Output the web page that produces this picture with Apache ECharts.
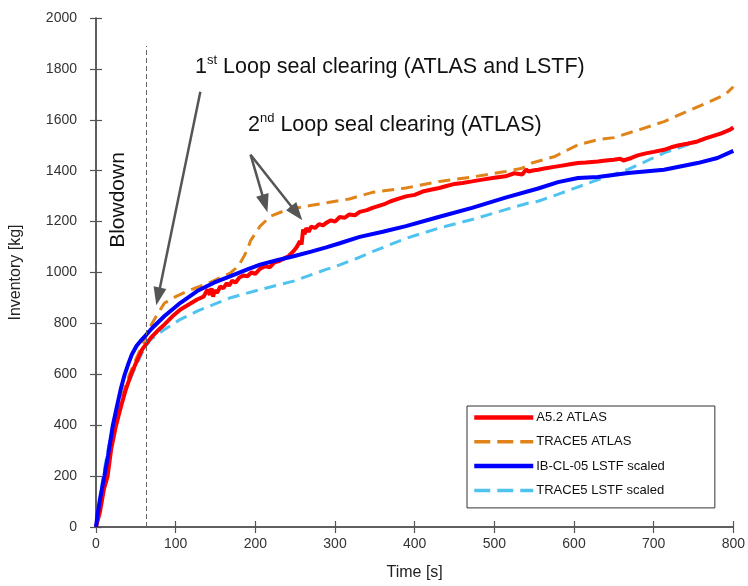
<!DOCTYPE html>
<html>
<head>
<meta charset="utf-8">
<script src="https://cdn.jsdelivr.net/npm/echarts@6/dist/echarts.min.js"></script>
<style>
  html, body { margin: 0; padding: 0; background: #fff; }
  #main { width: 748px; height: 586px; }
</style>
</head>
<body>
<div id="main"></div>
<script>
// inventory vs time, pairs of [time s, inventory kg]
var a52Atlas = [
  [0,0],[2,0],[5,60],[10,150],[14.6,200],[19,306],[25,397],[31,470],[37.5,541],[44,599],[51,650],
  [58,698],[69,744],[77,770],[86,796],[96,828],[106,855],[117,875],[127,894],[135,905],[140,933],
  [143,912],[145,938],[147,905],[149,930],[152,920],[156,945],[160,938],[164,958],[167,948],[171,968],
  [175,960],[180,980],[185,988],[190,985],[195,1000],[200,995],[206,1015],[212,1025],[218,1020],
  [224,1040],[230,1045],[236,1055],[242,1065],[248,1084],[252,1100],[256,1123],[258,1110],[260,1169],
  [262,1150],[264,1175],[267,1160],[270,1180],[275,1175],[280,1190],[285,1185],[289,1195],[295,1205],
  [300,1200],[306,1218],[312,1215],[318,1228],[325,1225],[331,1238],[340,1245],[347,1254],[355,1262],
  [363,1270],[370,1280],[380,1290],[389,1299],[400,1305],[410,1318],[420,1325],[431,1332],[440,1340],
  [450,1348],[460,1352],[472,1358],[485,1365],[500,1372],[514,1378],[525,1390],[535,1385],[540,1405],
  [543,1397],[550,1402],[555,1404],[565,1410],[575,1415],[585,1420],[595,1425],[605,1430],[615,1432],
  [630,1436],[640,1440],[650,1443],[658,1447],[662,1440],[672,1450],[680,1460],[690,1468],[700,1474],
  [713,1482],[722,1492],[732,1500],[742,1506],[755,1515],[765,1527],[775,1537],[785,1547],[796,1561],
  [800,1570]
];
var trace5Atlas = [
  [0,0],[5,100],[10.5,200],[16,300],[23,397],[29,470],[35.5,541],[42,600],[50,659],[58,715],[66,775],
  [75,825],[81,855],[86,880],[100,905],[115,927],[130,945],[144,962],[160,985],[169,999],[175,1015],
  [181,1038],[186,1065],[190,1090],[194,1125],[206,1182],[219,1221],[240,1247],[269,1263],[318,1289],
  [347,1315],[389,1332],[431,1358],[472,1375],[514,1397],[535,1410],[547,1430],[576,1456],[605,1502],
  [630,1522],[650,1530],[688,1567],[713,1593],[742,1633],[771,1672],[790,1700],[800,1730]
];
var ibcl05Lstf = [
  [0,0],[2,50],[5,110],[10.5,201],[15,280],[21,397],[26,470],[31,541],[36,599],[41,645],[45,678],
  [51,712],[56,731],[61,748],[70,780],[86,829],[106,881],[127,927],[148,960],[169,986],[190,1012],
  [206,1031],[227,1048],[248,1064],[270,1082],[289,1099],[306,1115],[331,1140],[360,1160],[389,1182],
  [430,1218],[472,1254],[515,1295],[555,1330],[580,1355],[605,1371],[630,1375],[668,1391],[713,1404],
  [755,1430],[780,1450],[800,1478]
];
var trace5Lstf = [
  [0,0],[3,60],[9,200],[15,300],[21,397],[29,475],[37.5,541],[50,633],[60,698],[69,738],[86,776],
  [106,816],[127,848],[148,875],[169,901],[206,933],[248,966],[289,1012],[306,1030],[331,1060],
  [347,1082],[389,1134],[431,1175],[472,1208],[514,1247],[543,1273],[555,1280],[584,1312],[626,1360],
  [668,1405],[713,1470],[755,1515],[800,1565]
];
var seriesNames = ['A5.2 ATLAS', 'TRACE5 ATLAS', 'IB-CL-05 LSTF scaled', 'TRACE5 LSTF scaled'];
var blowdownTime = 63;
var blowdownTop = 1890;
// annotation arrows, [from, to] in data coordinates
var arrows = [
  [[131, 1710], [78, 906]],
  [[194, 1463], [212, 1271]],
  [[194, 1463], [252, 1233]]
];

var FONT = 'Liberation Sans, Arial, sans-serif';
var colors = ['#ff0000', '#e0841a', '#0000ff', '#4fc3ef'];
var widths = [4, 3, 4, 3];
var dash = [12, 7];

var chart = echarts.init(document.getElementById('main'));

var axisCommon = {
  axisLine: { show: true, lineStyle: { color: '#555', width: 1.5 } },
  axisTick: { show: true, inside: true, length: 6, lineStyle: { color: '#555', width: 1.2 } },
  splitLine: { show: false }
};
function plain(v) { return String(v); }

var arrowLines = arrows.map(function (a) {
  return [{ coord: a[0], symbol: 'none' }, { coord: a[1], symbol: 'triangle', symbolSize: [13, 18] }];
});

var lineSeries = [a52Atlas, trace5Atlas, ibcl05Lstf, trace5Lstf].map(function (d, i) {
  return {
    name: seriesNames[i], type: 'line', data: d, symbol: 'none',
    z: [3, 2, 4, 2][i],
    lineStyle: { color: colors[i], width: widths[i], type: (i % 2) ? dash : 'solid' },
    itemStyle: { color: colors[i] }
  };
});

var option = {
  animation: false,
  backgroundColor: '#fff',
  grid: { left: 95, right: 12, top: 18, bottom: 58 },
  legend: {
    data: seriesNames.map(function (n, i) {
      return { name: n, lineStyle: { width: widths[i] + 0.5, color: colors[i], type: (i % 2) ? [16, 7] : 'solid' } };
    }),
    orient: 'vertical',
    left: 467,
    top: 406,
    padding: [5, 50, 11, 5],
    itemGap: 11.3,
    itemWidth: 59,
    itemHeight: 14,
    itemStyle: { opacity: 0 },
    backgroundColor: '#fff',
    borderColor: '#333',
    borderWidth: 1,
    borderRadius: 0,
    textStyle: { fontFamily: FONT, fontSize: 13, color: '#111', padding: [0, 0, 0, -2] }
  },
  xAxis: [
    Object.assign({
      type: 'value', min: 0, max: 800, interval: 100,
      name: 'Time [s]', nameLocation: 'middle', nameGap: 38,
      nameTextStyle: { fontFamily: FONT, fontSize: 16, color: '#222' },
      axisLabel: { fontFamily: FONT, fontSize: 14, color: '#333', margin: 10, formatter: plain }
    }, axisCommon),
    Object.assign({
      type: 'value', min: 0, max: 800, interval: 100, position: 'top',
      axisLabel: { show: false }
    }, axisCommon)
  ],
  yAxis: [
    Object.assign({
      type: 'value', min: 0, max: 2000, interval: 200,
      name: 'Inventory [kg]', nameLocation: 'middle', nameGap: 72,
      nameTextStyle: { fontFamily: FONT, fontSize: 16, color: '#222' },
      axisLabel: { fontFamily: FONT, fontSize: 14, color: '#333', margin: 19, formatter: plain }
    }, axisCommon),
    Object.assign({
      type: 'value', min: 0, max: 2000, interval: 200, position: 'right',
      axisLabel: { show: false }
    }, axisCommon)
  ],
  series: lineSeries.concat([
    {
      name: 'annotations', type: 'line', data: [], silent: true, z: 5,
      markLine: {
        silent: true,
        animation: false,
        label: { show: false },
        emphasis: { disabled: true },
        lineStyle: { color: '#555', width: 2.5, type: 'solid' },
        data: [
          [
            { coord: [blowdownTime, 0], symbol: 'none',
              lineStyle: { color: '#666', width: 1, type: [5, 3] } },
            { coord: [blowdownTime, blowdownTop], symbol: 'none' }
          ]
        ].concat(arrowLines)
      }
    }
  ]),
  graphic: [
    {
      type: 'text', x: 118, y: 200, rotation: Math.PI / 2,
      style: { text: 'Blowdown', align: 'center', verticalAlign: 'middle',
        font: '21px ' + FONT, fill: '#111' }
    },
    {
      type: 'text', x: 195, y: 54,
      style: {
        text: '{n|1}{s|st}{n| Loop seal clearing (ATLAS and LSTF)}',
        rich: {
          n: { fontSize: 21.5, fontFamily: FONT, fill: '#111', lineHeight: 26 },
          s: { fontSize: 13, fontFamily: FONT, fill: '#111', verticalAlign: 'top', lineHeight: 26 }
        }
      }
    },
    {
      type: 'text', x: 248, y: 112,
      style: {
        text: '{n|2}{s|nd}{n| Loop seal clearing (ATLAS)}',
        rich: {
          n: { fontSize: 21.5, fontFamily: FONT, fill: '#111', lineHeight: 26 },
          s: { fontSize: 13, fontFamily: FONT, fill: '#111', verticalAlign: 'top', lineHeight: 26 }
        }
      }
    }
  ]
};
chart.setOption(option);
</script>
</body>
</html>
